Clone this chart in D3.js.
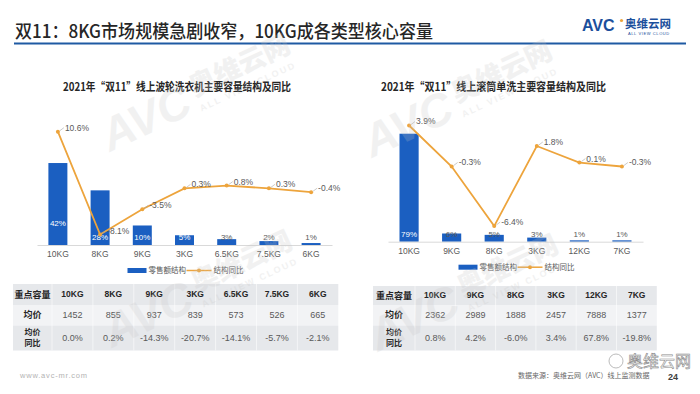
<!DOCTYPE html>
<html>
<head>
<meta charset="utf-8">
<script src="https://cdn.jsdelivr.net/npm/d3@7"></script>
<style>
body { margin: 0; background: #fff; }
svg { display: block; font-family: "Noto Sans CJK SC", "Liberation Sans", sans-serif; }
</style>
</head>
<body>
<svg id="chart" width="700" height="394"></svg>
<script>
// values
var leftCats = ["10KG", "8KG", "9KG", "3KG", "6.5KG", "7.5KG", "6KG"];
var leftShare = [42, 28, 10, 5, 3, 2, 1];
var leftYoY = [10.6, -8.1, -3.5, 0.3, 0.8, 0.3, -0.4];
var leftPrice = [1452, 855, 937, 839, 573, 526, 665];
var leftPriceYoY = [0.0, 0.2, -14.3, -20.7, -14.1, -5.7, -2.1];

var rightCats = ["10KG", "9KG", "8KG", "3KG", "12KG", "7KG"];
var rightShare = [79, 6, 5, 3, 1, 1];
var rightYoY = [3.9, -0.3, -6.4, 1.8, 0.1, -0.3];
var rightPrice = [2362, 2989, 1888, 2457, 7888, 1377];
var rightPriceYoY = [0.8, 4.2, -6.0, 3.4, 67.8, -19.8];

var barColor = "#1b5fc1";
var lineColor = "#eda43c";
var textGray = "#595959";
var numFont = "'Liberation Sans', 'Noto Sans CJK SC', sans-serif";

var svg = d3.select("#chart");

// ---- header ----
svg.append("text")
  .attr("x", 15).attr("y", 38)
  .attr("font-size", 18).attr("font-weight", 500).attr("fill", "#262626")
  .attr("textLength", 418).attr("lengthAdjust", "spacingAndGlyphs")
  .text("双11：8KG市场规模急剧收窄，10KG成各类型核心容量");

svg.append("line")
  .attr("x1", 14).attr("x2", 686).attr("y1", 43.5).attr("y2", 43.5)
  .attr("stroke", "#1f5aa3").attr("stroke-width", 2);

// logo
svg.append("text").attr("x", 582).attr("y", 31)
  .attr("font-family", numFont).attr("font-size", 16).attr("font-weight", 900)
  .attr("fill", "#1b4f9c").text("AVC");
svg.append("circle").attr("cx", 621.5).attr("cy", 20.5).attr("r", 1.6).attr("fill", lineColor);
svg.append("text").attr("x", 625).attr("y", 28)
  .attr("font-size", 11.5).attr("font-weight", 700).attr("fill", "#1b4f9c").text("奥维云网");
svg.append("text").attr("x", 628).attr("y", 34.5)
  .attr("font-family", numFont).attr("font-size", 4).attr("fill", "#1b4f9c")
  .attr("letter-spacing", 0.6).text("ALL VIEW CLOUD");

// chart titles
svg.append("text").attr("x", 63).attr("y", 91)
  .attr("font-size", 11.5).attr("font-weight", 700).attr("fill", "#262626")
  .attr("textLength", 228).attr("lengthAdjust", "spacingAndGlyphs")
  .text("2021年“双11”线上波轮洗衣机主要容量结构及同比");
svg.append("text").attr("x", 381).attr("y", 91)
  .attr("font-size", 11.5).attr("font-weight", 700).attr("fill", "#262626")
  .attr("textLength", 225).attr("lengthAdjust", "spacingAndGlyphs")
  .text("2021年“双11”线上滚筒单洗主要容量结构及同比");

// ---- bar + line combo ----
function drawChart(o) {
  var g = svg.append("g");

  var x = d3.scaleBand().domain(o.cats)
    .range([o.axisX0, o.axisX1])
    .paddingInner(0.55).paddingOuter(0.27);
  var yBar = d3.scaleLinear().domain(o.shareDomain).range([o.base, o.top]);
  var yLine = d3.scaleLinear().domain(o.yoyDomain).range([o.base, o.top]);
  var cx = function (i) { return x(o.cats[i]) + x.bandwidth() / 2; };

  g.selectAll("rect.bar").data(o.share).enter().append("rect")
    .attr("class", "bar")
    .attr("x", function (d, i) { return x(o.cats[i]); })
    .attr("y", function (d) { return yBar(d); })
    .attr("width", x.bandwidth())
    .attr("height", function (d) { return o.base - yBar(d); })
    .attr("fill", barColor);

  var axis = d3.axisBottom(x).tickSize(0).tickPadding(6);
  var ax = g.append("g").attr("transform", "translate(0," + o.base + ")").call(axis);
  ax.select(".domain").attr("stroke", "#d9d9d9");
  ax.selectAll("text").attr("font-size", 8.5).attr("fill", textGray)
    .attr("font-family", numFont);

  // bar labels sit near the base (tall bars keep theirs a bit higher)
  g.selectAll("text.barlab").data(o.share).enter().append("text")
    .attr("x", function (d, i) { return cx(i); })
    .attr("y", function (d) { return Math.min(o.base - 8, yBar(d) + o.labelDrop); })
    .attr("dy", "0.35em")
    .attr("text-anchor", "middle")
    .attr("font-family", numFont).attr("font-size", 8)
    .attr("fill", function (d) { return (o.base - yBar(d)) > 9 ? "#fff" : textGray; })
    .text(function (d) { return d + "%"; });

  var line = d3.line()
    .x(function (d, i) { return cx(i); })
    .y(function (d) { return yLine(d); });
  g.append("path").datum(o.yoy)
    .attr("d", line).attr("fill", "none")
    .attr("stroke", lineColor).attr("stroke-width", 1.8);
  g.selectAll("circle.pt").data(o.yoy).enter().append("circle")
    .attr("cx", function (d, i) { return cx(i); })
    .attr("cy", function (d) { return yLine(d); })
    .attr("r", 2).attr("fill", lineColor);

  // line labels with a little leader
  g.selectAll("line.lead").data(o.yoy).enter().append("line")
    .attr("x1", function (d, i) { return cx(i) + 2; })
    .attr("y1", function (d) { return yLine(d) - 1; })
    .attr("x2", function (d, i) { return cx(i) + 6; })
    .attr("y2", function (d) { return yLine(d) - 4; })
    .attr("stroke", "#a6a6a6").attr("stroke-width", 0.6);
  g.selectAll("text.linelab").data(o.yoy).enter().append("text")
    .attr("x", function (d, i) { return cx(i) + 7; })
    .attr("y", function (d) { return yLine(d) - 4; })
    .attr("dy", "0.35em")
    .attr("font-family", numFont).attr("font-size", 8.5).attr("fill", textGray)
    .text(function (d) { return d.toFixed(1) + "%"; });

  // legend
  var ly = o.base + 25.5;
  var lx = (o.axisX0 + o.axisX1) / 2 - 57;
  g.append("rect").attr("x", lx).attr("y", ly - 2.5).attr("width", 19).attr("height", 5)
    .attr("fill", barColor);
  g.append("text").attr("x", lx + 21).attr("y", ly).attr("dy", "0.35em")
    .attr("font-size", 7.5).attr("fill", textGray).text("零售额结构");
  g.append("line").attr("x1", lx + 59).attr("x2", lx + 84).attr("y1", ly).attr("y2", ly)
    .attr("stroke", lineColor).attr("stroke-width", 1.5);
  g.append("circle").attr("cx", lx + 71.5).attr("cy", ly).attr("r", 2).attr("fill", lineColor);
  g.append("text").attr("x", lx + 86).attr("y", ly).attr("dy", "0.35em")
    .attr("font-size", 7.5).attr("fill", textGray).text("结构同比");
}

drawChart({
  cats: leftCats, share: leftShare, yoy: leftYoY,
  axisX0: 37, axisX1: 332, base: 245, top: 124, labelDrop: 60,
  shareDomain: [0, 62], yoyDomain: [-10, 12]
});
drawChart({
  cats: rightCats, share: rightShare, yoy: rightYoY,
  axisX0: 388, axisX1: 643, base: 241.7, top: 105, labelDrop: 200,
  shareDomain: [0, 100], yoyDomain: [-8, 6]
});

// ---- tables ----
function drawTable(o) {
  var g = svg.append("g");
  var n = o.cats.length;
  var rowH = [305 - o.top, 20.5, 25];
  var rowY = [o.top, 305, 325.5];
  var fills = ["#e6e8eb", "#f2f3f5", "#e6e8eb"];
  var width = o.firstW + n * o.colW;

  rowY.forEach(function (y, r) {
    g.append("rect").attr("x", o.x0).attr("y", y)
      .attr("width", width).attr("height", rowH[r]).attr("fill", fills[r]);
  });
  d3.range(n).forEach(function (i) {
    var xx = o.x0 + o.firstW + i * o.colW;
    g.append("line").attr("x1", xx).attr("x2", xx)
      .attr("y1", o.top).attr("y2", 350.5)
      .attr("stroke", "#fff").attr("stroke-opacity", 0.7).attr("stroke-width", 0.8);
  });

  var colX = function (i) { return o.x0 + o.firstW + (i + 0.5) * o.colW; };
  var firstX = o.x0 + o.firstW / 2;
  var mid = function (r) { return rowY[r] + rowH[r] / 2; };

  g.append("text").attr("x", firstX).attr("y", mid(0)).attr("dy", "0.35em")
    .attr("text-anchor", "middle").attr("font-size", 9).attr("font-weight", 700)
    .attr("fill", "#262626").text("重点容量");
  g.append("text").attr("x", firstX).attr("y", mid(1)).attr("dy", "0.35em")
    .attr("text-anchor", "middle").attr("font-size", 9).attr("font-weight", 700)
    .attr("fill", "#262626").text("均价");
  ["均价", "同比"].forEach(function (t, k) {
    g.append("text").attr("x", firstX).attr("y", mid(2) + (k ? 5.5 : -5.5)).attr("dy", "0.35em")
      .attr("text-anchor", "middle").attr("font-size", 8).attr("font-weight", 700)
      .attr("fill", "#262626").text(t);
  });

  g.selectAll("text.hd").data(o.cats).enter().append("text")
    .attr("x", function (d, i) { return colX(i); }).attr("y", mid(0)).attr("dy", "0.35em")
    .attr("text-anchor", "middle").attr("font-family", numFont)
    .attr("font-size", 8.5).attr("font-weight", 700).attr("fill", "#262626")
    .text(function (d) { return d; });
  g.selectAll("text.pr").data(o.price).enter().append("text")
    .attr("x", function (d, i) { return colX(i); }).attr("y", mid(1)).attr("dy", "0.35em")
    .attr("text-anchor", "middle").attr("font-family", numFont)
    .attr("font-size", 9).attr("fill", textGray)
    .text(function (d) { return d; });
  g.selectAll("text.yy").data(o.yoy).enter().append("text")
    .attr("x", function (d, i) { return colX(i); }).attr("y", mid(2)).attr("dy", "0.35em")
    .attr("text-anchor", "middle").attr("font-family", numFont)
    .attr("font-size", 9).attr("fill", textGray)
    .text(function (d) { return d.toFixed(1) + "%"; });
}

drawTable({ cats: leftCats, price: leftPrice, yoy: leftPriceYoY,
  x0: 13, firstW: 39, colW: 40.9, top: 284 });
drawTable({ cats: rightCats, price: rightPrice, yoy: rightPriceYoY,
  x0: 373, firstW: 42, colW: 40.3, top: 286 });

// ---- footer ----
svg.append("text").attr("x", 20).attr("y", 378)
  .attr("font-family", numFont).attr("font-size", 7.5).attr("fill", "#b3b3b3")
  .attr("letter-spacing", 0.8).text("www.avc-mr.com");
svg.append("text").attr("x", 518).attr("y", 378)
  .attr("font-size", 7).attr("fill", "#666").text("数据来源：奥维云网（AVC）线上监测数据");
svg.append("text").attr("x", 668).attr("y", 380)
  .attr("font-family", numFont).attr("font-size", 9).attr("font-weight", 700)
  .attr("fill", "#404040").text("24");

// wechat mark
svg.append("circle").attr("cx", 616).attr("cy", 361).attr("r", 7)
  .attr("fill", "none").attr("stroke", "#aaa").attr("stroke-width", 0.8);
svg.append("text").attr("x", 627).attr("y", 367)
  .attr("font-size", 16).attr("fill", "#fff").attr("stroke", "#8c8c8c")
  .attr("stroke-width", 0.6).text("奥维云网");

// ---- faint AVC watermarks ----
[[110, 152], [112, 348], [372, 158], [378, 352]].forEach(function (p) {
  var w = svg.append("g")
    .attr("transform", "translate(" + p[0] + "," + p[1] + ") rotate(-25)")
    .attr("fill", "#c4c4c4").attr("opacity", 0.22);
  w.append("text").attr("font-family", numFont).attr("font-size", 46)
    .attr("font-weight", 900).attr("font-style", "italic").text("AVC");
  w.append("text").attr("x", 100).attr("y", -14).attr("font-size", 27)
    .attr("font-weight", 900).text("奥维云网");
  w.append("text").attr("x", 100).attr("y", 2).attr("font-family", numFont)
    .attr("font-size", 9).attr("font-weight", 700).attr("letter-spacing", 2)
    .text("ALL VIEW CLOUD");
});
</script>
</body>
</html>
